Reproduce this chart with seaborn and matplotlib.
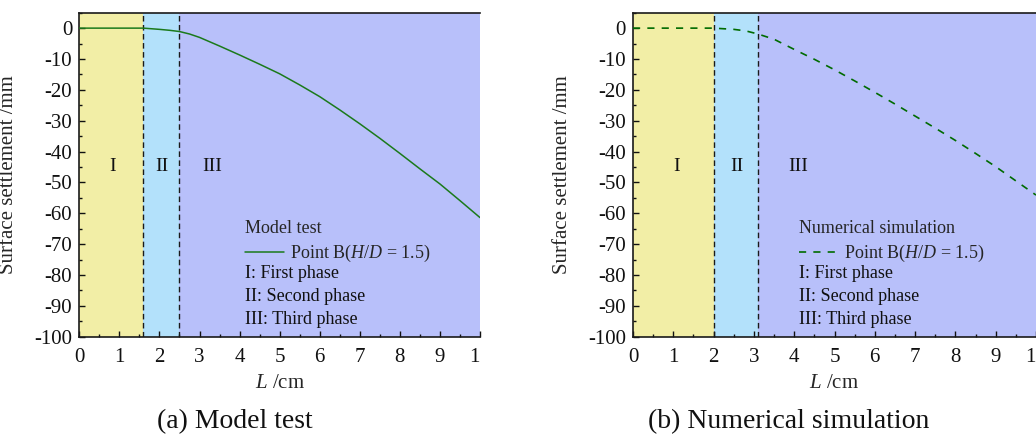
import numpy as np
import pandas as pd
import matplotlib
matplotlib.use("Agg")
import matplotlib.pyplot as plt
import seaborn as sns
from matplotlib.ticker import MultipleLocator
from matplotlib.transforms import Bbox, TransformedBbox

# Distance from the excavation face (cm)
L_model = [0, 0.5, 1.0, 1.6, 2.0, 2.25, 2.5, 2.75, 3.0, 3.5, 4.0, 4.5, 5.0, 5.5, 6.0,
           6.5, 7.0, 7.5, 8.0, 8.5, 9.0, 9.5, 10.0]
# Surface settlement at point B, model test (mm)
s_model = [0, 0, 0, 0, -0.4, -0.7, -1.1, -1.9, -3.0, -5.8, -8.7, -11.7, -14.8, -18.4,
           -22.2, -26.5, -31.0, -35.7, -40.6, -45.6, -50.5, -55.9, -61.4]

L_sim = [0, 0.5, 1.0, 1.5, 2.0, 2.5, 2.8, 3.1, 3.5, 4.0, 4.5, 5.0, 5.5, 6.0,
         6.5, 7.0, 7.5, 8.0, 8.5, 9.0, 9.5, 10.0]
# Surface settlement at point B, numerical simulation (mm)
s_sim = [0, 0, 0, 0, 0, -0.4, -0.9, -1.9, -3.6, -6.9, -10.1, -13.5, -17.1, -20.8,
         -24.6, -28.5, -32.4, -36.4, -40.6, -44.9, -49.5, -54.1]

# Phase boundaries (cm) for each panel
phases_model = [0, 1.6, 2.5, 10]
phases_sim = [0, 2.0, 3.1, 10]
phase_names = ["I", "II", "III"]
phase_label_x_model = [0.83, 2.05, 3.31]
phase_label_x_sim = [1.08, 2.58, 4.09]
phase_label_y = -45
phase_desc = ["I: First phase", "II: Second phase", "III: Third phase"]
entry_label = "Point B($\\mathit{H}$/$\\mathit{D}$ = 1.5)"

x_ticks = list(range(0, 11))
y_ticks = list(range(0, -101, -10))

sns.set_theme(style="ticks")
plt.rcParams["font.family"] = ["Liberation Serif", "DejaVu Serif"]
plt.rcParams["mathtext.fontset"] = "custom"
plt.rcParams["mathtext.rm"] = "Liberation Serif"
plt.rcParams["mathtext.it"] = "Liberation Serif:italic"
plt.rcParams["axes.unicode_minus"] = False

phase_colors = ["#F2EEA6", "#B3E1FB", "#B8C0FA"]
green_solid = "#1B7A1B"
green_dash = "#006B00"

fig = plt.figure(figsize=(10.36, 4.38), dpi=100)
W, H = 1036, 438
ax_bottom = (H - 336.7) / H
ax_height = 324 / H
ax1 = fig.add_axes([79.3 / W, ax_bottom, 400.7 / W, ax_height])
ax2 = fig.add_axes([633 / W, ax_bottom, 403 / W, ax_height])

df_model = pd.DataFrame({"L": L_model, "s": s_model})
df_sim = pd.DataFrame({"L": L_sim, "s": s_sim})


def style_axes(ax, bounds, label_x, title, df, dashed):
    for i in range(3):
        ax.axvspan(bounds[i], bounds[i + 1], color=phase_colors[i], lw=0, zorder=0)
    for b in bounds[1:3]:
        ax.axvline(b, color="#1a1a1a", lw=1.0, ls=(0, (4, 2.5)), zorder=2)
    for name, xp in zip(phase_names, label_x):
        ax.text(xp, phase_label_y, name, ha="center", va="center", fontsize=14,
                color="#111111", zorder=3)
    if dashed:
        sns.lineplot(data=df, x="L", y="s", ax=ax, color=green_dash, lw=1.2,
                     zorder=4, label=entry_label)
        ax.lines[-1].set_dashes((4.3, 4.3))
    else:
        sns.lineplot(data=df, x="L", y="s", ax=ax, color=green_solid, lw=1.1,
                     zorder=4, label=entry_label)
    leg = ax.legend(loc="upper left", bbox_to_anchor=(0.4125, 0.359), frameon=False,
                    fontsize=13, title=title, title_fontsize=13, alignment="left",
                    handlelength=2.2, handletextpad=0.3, borderaxespad=0,
                    borderpad=0, labelspacing=0.3)
    if dashed:
        leg.get_lines()[0].set_dashes((4.3, 4.3))
    for k, txt in enumerate(phase_desc):
        ax.text(0.413, 0.196 - 0.071 * k, txt, transform=ax.transAxes,
                fontsize=13, ha="left", va="center", color="#111111", zorder=5)

    ax.set_xlim(0, 10)
    ax.set_ylim(-100, 5)
    ax.set_xticks(x_ticks)
    ax.set_yticks(y_ticks)
    ax.set_xticklabels([str(t) for t in x_ticks])
    ax.set_yticklabels([str(t) for t in y_ticks])
    ax.xaxis.set_minor_locator(MultipleLocator(0.5))
    ax.yaxis.set_minor_locator(MultipleLocator(5))
    ax.tick_params(which="both", direction="in", top=False, right=False,
                   labelsize=15, colors="#111111", width=1.0)
    ax.tick_params(which="major", length=4.5, pad=5)
    ax.tick_params(axis="x", which="major", pad=8)
    ax.tick_params(which="minor", length=2.5)
    for side in ["left", "bottom", "top"]:
        ax.spines[side].set_color("#1a1a1a")
        ax.spines[side].set_linewidth(1.2)
    ax.spines["right"].set_visible(False)
    ax.set_xlabel("$\\mathit{L}$ /cm", fontsize=15, labelpad=5)
    ax.set_ylabel("Surface settlement /mm", fontsize=15)
    ax.yaxis.set_label_coords(-0.152, 0.5)
    ax.grid(False)


style_axes(ax1, phases_model, phase_label_x_model, "Model test", df_model, False)
style_axes(ax2, phases_sim, phase_label_x_sim, "Numerical simulation", df_sim, True)

# The last x tick label is cut at the panel edge
for ax in (ax1, ax2):
    lab = ax.xaxis.get_major_ticks()[-1].label1
    lab.set_clip_on(True)
    lab.set_clip_box(TransformedBbox(Bbox.from_extents(-0.1, -1.0, 1.0, 1.0),
                                     ax.transAxes))

fig.text(235 / W, 1 - 422 / H, "(a) Model test", ha="center", va="center",
         fontsize=20, color="#111111")
fig.text(789 / W, 1 - 422 / H, "(b) Numerical simulation", ha="center",
         va="center", fontsize=20, color="#111111")

fig.savefig("out.png", dpi=100, facecolor="white")
